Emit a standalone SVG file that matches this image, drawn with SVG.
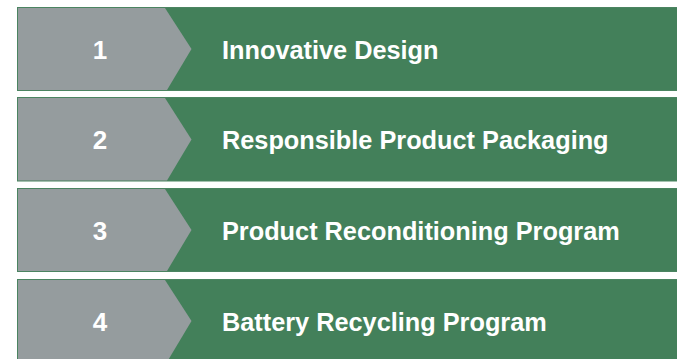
<svg xmlns="http://www.w3.org/2000/svg" width="677" height="359" viewBox="0 0 677 359">
  <style>
    .band { fill: #43805a; stroke: #4b8461; stroke-width: 1; }
    .chev { fill: #959c9e; }
    .num { font-family: "Liberation Sans", Arial, sans-serif; font-weight: bold; font-size: 26px; fill: #ffffff; text-anchor: middle; }
    .lbl { font-family: "Liberation Sans", Arial, sans-serif; font-weight: bold; font-size: 25.3px; fill: #ffffff; }
  </style>
  <rect width="677" height="359" fill="#ffffff"/>
  <g id="step1">
    <rect class="band" x="17.5" y="7.5" width="670" height="83"/>
    <polygon class="chev" points="18,8 165,8 191.5,49 167,90 18,90"/>
    <text class="num" x="100" y="58.5">1</text>
    <text class="lbl" x="222" y="58.5">Innovative Design</text>
  </g>
  <g id="step2">
    <rect class="band" x="17.5" y="97.5" width="670" height="83.5"/>
    <polygon class="chev" points="18,98 165,98 191.5,139.5 167,180.5 18,180.5"/>
    <text class="num" x="100" y="149">2</text>
    <text class="lbl" x="222" y="149">Responsible Product Packaging</text>
  </g>
  <g id="step3">
    <rect class="band" x="17.5" y="188.5" width="670" height="83"/>
    <polygon class="chev" points="18,189 165,189 191.5,230 167,271 18,271"/>
    <text class="num" x="100" y="239.5">3</text>
    <text class="lbl" x="222" y="239.5">Product Reconditioning Program</text>
  </g>
  <g id="step4">
    <rect class="band" x="17.5" y="279.5" width="670" height="83"/>
    <polygon class="chev" points="18,280 165,280 191.5,321 167,362 18,362"/>
    <text class="num" x="100" y="330.5">4</text>
    <text class="lbl" x="222" y="330.5">Battery Recycling Program</text>
  </g>
  <g id="connectors"/>
</svg>
